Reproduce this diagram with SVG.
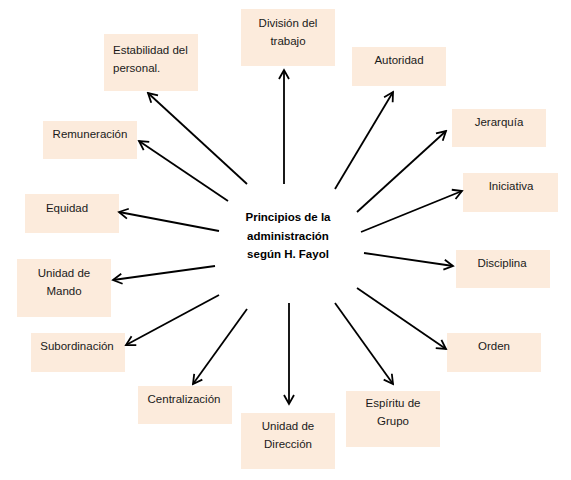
<svg xmlns="http://www.w3.org/2000/svg" width="571" height="480" viewBox="0 0 571 480">
<style>
.box{fill:#FCEBDC;}
.t{font-family:"Liberation Sans",Arial,sans-serif;font-size:11.5px;fill:#1a1a1a;text-anchor:middle;}
.c{font-family:"Liberation Sans",Arial,sans-serif;font-size:11.5px;font-weight:bold;fill:#000;text-anchor:middle;}
.ln{stroke:#000;stroke-width:1.8;fill:none;marker-end:url(#ah);}
</style>
<defs>
<marker id="ah" markerUnits="userSpaceOnUse" markerWidth="12" markerHeight="14" refX="10" refY="6" orient="auto" viewBox="0 0 12 12">
<path d="M1,1 L10,6 L1,11" fill="none" stroke="#000" stroke-width="1.8"/>
</marker>
</defs>
<rect width="571" height="480" fill="#fff"/>
<g id="center">
<text class="c" x="288" y="221">Principios de la</text>
<text class="c" x="288" y="240">administración</text>
<text class="c" x="288" y="258">según H. Fayol</text>
</g>
<g id="n-estabilidad"><rect class="box" x="104" y="34" width="94" height="57"/><text class="t" x="113" y="54" style="text-anchor:start">Estabilidad del</text><text class="t" x="113" y="72" style="text-anchor:start">personal.</text></g>
<g id="n-division"><rect class="box" x="241" y="9" width="94" height="57"/><text class="t" x="288" y="27">División del</text><text class="t" x="288" y="45">trabajo</text></g>
<g id="n-autoridad"><rect class="box" x="352" y="47" width="94" height="39"/><text class="t" x="399" y="64">Autoridad</text></g>
<g id="n-jerarquia"><rect class="box" x="452" y="109" width="94" height="38"/><text class="t" x="499" y="126">Jerarquía</text></g>
<g id="n-remuneracion"><rect class="box" x="43" y="121" width="94" height="38"/><text class="t" x="90" y="138">Remuneración</text></g>
<g id="n-iniciativa"><rect class="box" x="463" y="173" width="95" height="39"/><text class="t" x="511" y="190">Iniciativa</text></g>
<g id="n-equidad"><rect class="box" x="25" y="194" width="94" height="39"/><text class="t" x="67" y="212">Equidad</text></g>
<g id="n-disciplina"><rect class="box" x="456" y="250" width="94" height="38"/><text class="t" x="502" y="267">Disciplina</text></g>
<g id="n-mando"><rect class="box" x="17" y="259" width="94" height="58"/><text class="t" x="64" y="277">Unidad de</text><text class="t" x="64" y="295">Mando</text></g>
<g id="n-subordinacion"><rect class="box" x="31" y="333" width="94" height="39"/><text class="t" x="77" y="350">Subordinación</text></g>
<g id="n-orden"><rect class="box" x="447" y="333" width="94" height="39"/><text class="t" x="494" y="350">Orden</text></g>
<g id="n-centralizacion"><rect class="box" x="138" y="386" width="94" height="38"/><text class="t" x="184" y="403">Centralización</text></g>
<g id="n-espiritu"><rect class="box" x="346" y="391" width="94" height="56"/><text class="t" x="393" y="407">Espíritu de</text><text class="t" x="393" y="425">Grupo</text></g>
<g id="n-direccion"><rect class="box" x="241" y="413" width="94" height="56"/><text class="t" x="288" y="430">Unidad de</text><text class="t" x="288" y="448">Dirección</text></g>
<g id="connectors">
<line class="ln" x1="284" y1="184" x2="284" y2="70"/>
<line class="ln" x1="247" y1="184" x2="148" y2="93"/>
<line class="ln" x1="228" y1="201" x2="139" y2="141"/>
<line class="ln" x1="335" y1="189" x2="393" y2="92"/>
<line class="ln" x1="357" y1="212" x2="446" y2="131"/>
<line class="ln" x1="219" y1="231" x2="119" y2="212"/>
<line class="ln" x1="215" y1="266" x2="113" y2="280"/>
<line class="ln" x1="361" y1="232" x2="462" y2="191"/>
<line class="ln" x1="364" y1="253" x2="453" y2="266"/>
<line class="ln" x1="219" y1="295" x2="126" y2="345"/>
<line class="ln" x1="247" y1="309" x2="193" y2="384"/>
<line class="ln" x1="289" y1="303" x2="289" y2="404"/>
<line class="ln" x1="335" y1="303" x2="393" y2="384"/>
<line class="ln" x1="357" y1="288" x2="446" y2="349"/>
</g>
</svg>
